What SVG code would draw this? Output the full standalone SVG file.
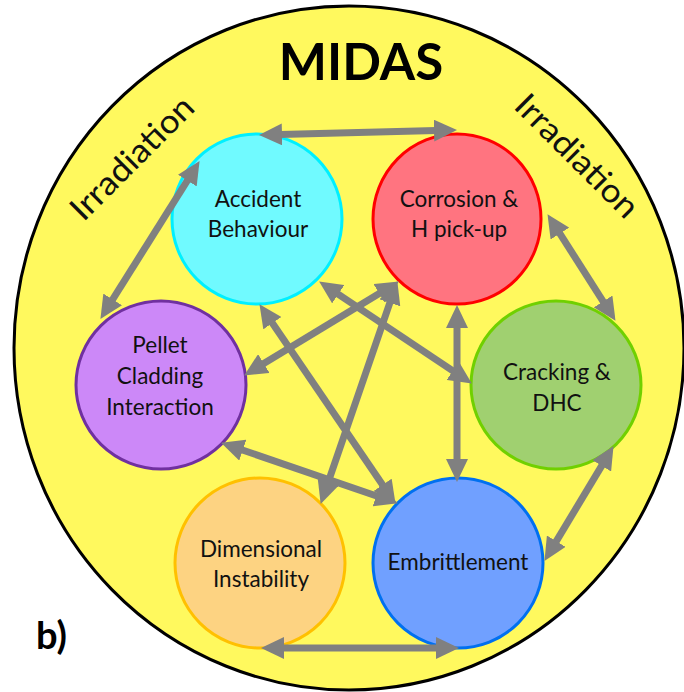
<svg xmlns="http://www.w3.org/2000/svg" width="684" height="692" viewBox="0 0 684 692">
<defs>
<style>
.nd{stroke-width:3}
.lb{font-family:Lato,"Open Sans","Liberation Sans",sans-serif;font-size:22.5px;fill:#111;text-anchor:middle}
.ir{font-family:Lato,"Open Sans","Liberation Sans",sans-serif;font-size:33px;fill:#111;text-anchor:middle}
.cn line{stroke:#808080;stroke-width:7;marker-start:url(#ah);marker-end:url(#ah)}
</style>
<marker id="ah" markerUnits="userSpaceOnUse" markerWidth="24" markerHeight="22" viewBox="0 0 24 22" refX="2" refY="11" orient="auto-start-reverse">
<path d="M0,0 L23,11 L0,22 z" fill="#808080"/>
</marker>
</defs>
<rect width="684" height="692" fill="#ffffff"/>
<ellipse cx="349" cy="348" rx="335" ry="342" fill="#fff95e" stroke="#000" stroke-width="3"/>
<text x="361" y="80" font-family="Lato,'Open Sans','Liberation Sans',sans-serif" font-weight="bold" font-size="51" text-anchor="middle" fill="#000">MIDAS</text>
<text class="ir" transform="translate(140,166) rotate(-45)" textLength="160" lengthAdjust="spacingAndGlyphs">Irradiation</text>
<text class="ir" transform="translate(569,164) rotate(45)" textLength="160" lengthAdjust="spacingAndGlyphs">Irradiation</text>
<text x="36" y="649" font-family="Lato,'Open Sans','Liberation Sans',sans-serif" font-weight="bold" font-size="38" fill="#000">b)</text>

<g id="accident">
<ellipse class="nd" cx="257" cy="219" rx="85" ry="85" fill="#70faff" stroke="#00f0ff"/>
<text class="lb" x="258" y="207">Accident</text>
<text class="lb" x="258" y="237">Behaviour</text>
</g>
<g id="corrosion">
<ellipse class="nd" cx="457" cy="219" rx="84" ry="85" fill="#ff7480" stroke="#ff0000"/>
<text class="lb" x="459" y="207">Corrosion &amp;</text>
<text class="lb" x="459" y="237">H pick-up</text>
</g>
<g id="pellet">
<ellipse class="nd" cx="161" cy="385" rx="85" ry="84" fill="#cc88f8" stroke="#7030a0"/>
<text class="lb" x="160" y="353">Pellet</text>
<text class="lb" x="160" y="384">Cladding</text>
<text class="lb" x="160" y="415">Interaction</text>
</g>
<g id="cracking">
<ellipse class="nd" cx="556" cy="385" rx="85" ry="84" fill="#a0d070" stroke="#70d000"/>
<text class="lb" x="557" y="380">Cracking &amp;</text>
<text class="lb" x="557" y="411">DHC</text>
</g>
<g id="dimensional">
<ellipse class="nd" cx="260" cy="563" rx="85" ry="85" fill="#fdd382" stroke="#ffc000"/>
<text class="lb" x="261" y="557">Dimensional</text>
<text class="lb" x="261" y="587">Instability</text>
</g>
<g id="embrittlement">
<ellipse class="nd" cx="458" cy="563" rx="85" ry="85" fill="#70a0ff" stroke="#0070f0"/>
<text class="lb" x="458" y="570">Embrittlement</text>
</g>

<g id="connectors" class="cn">
<line x1="280" y1="134.5" x2="436" y2="130.5"/>
<line x1="111.6" y1="301.1" x2="188.4" y2="178.9"/>
<line x1="558.8" y1="231.9" x2="604.2" y2="303.1"/>
<line x1="602.7" y1="464.1" x2="555.3" y2="542.9"/>
<line x1="282" y1="648" x2="438" y2="648"/>
<line x1="457" y1="326" x2="457" y2="461"/>
<line x1="336.6" y1="293.1" x2="454.4" y2="371.9"/>
<line x1="262.1" y1="364.6" x2="380.9" y2="292.4"/>
<line x1="271.3" y1="321.5" x2="383.7" y2="486.5"/>
<line x1="327.5" y1="484.1" x2="390.5" y2="300.9"/>
<line x1="240.9" y1="449.5" x2="378.1" y2="496.5"/>
</g>
</svg>
